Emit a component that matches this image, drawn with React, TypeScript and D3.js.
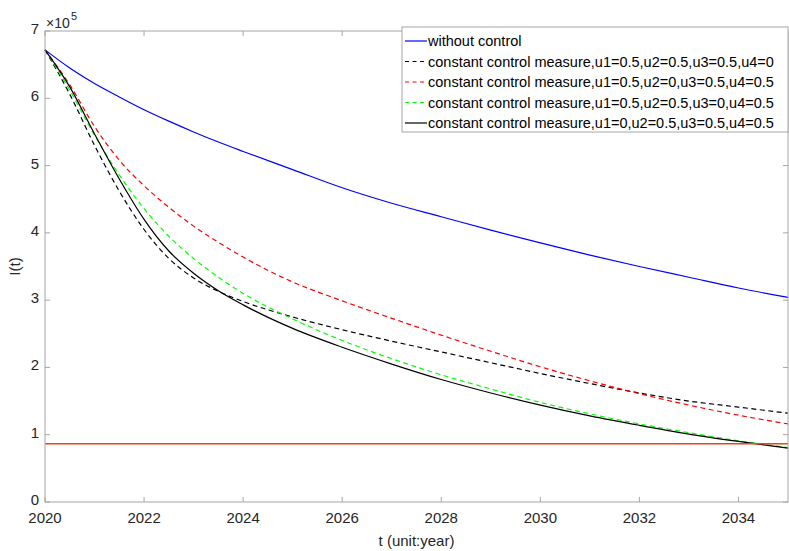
import React from "react";
import * as d3 from "d3";

const years = [2020, 2020.5, 2021, 2021.5, 2022, 2022.5, 2023, 2023.5, 2024, 2025, 2026, 2027, 2028, 2029, 2030, 2031, 2032, 2033, 2034, 2035];
const withoutControl = [6.72, 6.45, 6.22, 6.02, 5.83, 5.66, 5.5, 5.35, 5.21, 4.94, 4.67, 4.44, 4.24, 4.04, 3.85, 3.67, 3.5, 3.34, 3.18, 3.04];
const noU4 = [6.72, 6.06, 5.3, 4.62, 4.05, 3.62, 3.33, 3.13, 2.98, 2.75, 2.56, 2.39, 2.23, 2.07, 1.91, 1.76, 1.62, 1.5, 1.41, 1.32];
const noU2 = [6.72, 6.2, 5.58, 5.08, 4.7, 4.38, 4.1, 3.86, 3.64, 3.27, 2.99, 2.73, 2.48, 2.24, 2.01, 1.8, 1.61, 1.44, 1.29, 1.16];
const noU3 = [6.72, 6.12, 5.45, 4.86, 4.36, 3.95, 3.62, 3.34, 3.1, 2.72, 2.4, 2.13, 1.89, 1.68, 1.48, 1.31, 1.16, 1.03, 0.91, 0.81];
const noU1 = [6.72, 6.17, 5.47, 4.8, 4.2, 3.73, 3.4, 3.14, 2.93, 2.58, 2.3, 2.05, 1.82, 1.62, 1.44, 1.28, 1.14, 1.01, 0.9, 0.8];
const threshold = 0.866;

const xTicks = [2020, 2022, 2024, 2026, 2028, 2030, 2032, 2034];
const yTicks = [0, 1, 2, 3, 4, 5, 6, 7];

const legendLabels = [
  "without control",
  "constant control measure,u1=0.5,u2=0.5,u3=0.5,u4=0",
  "constant control measure,u1=0.5,u2=0,u3=0.5,u4=0.5",
  "constant control measure,u1=0.5,u2=0.5,u3=0,u4=0.5",
  "constant control measure,u1=0,u2=0.5,u3=0.5,u4=0.5",
];

const series = [
  { values: withoutControl, color: "#0000ff", dash: "" },
  { values: noU4, color: "#000000", dash: "5,3.5" },
  { values: noU2, color: "#ff0000", dash: "5,3.5" },
  { values: noU3, color: "#00ff00", dash: "5,3.5" },
  { values: noU1, color: "#000000", dash: "" },
];

export default function App() {
  const W = 789, H = 551;
  const left = 45, right = 788, top = 31, bottom = 502;
  const x = d3.scaleLinear().domain([2020, 2035]).range([left, right]);
  const y = d3.scaleLinear().domain([0, 7]).range([bottom, top]);
  const line = d3
    .line<number>()
    .x((_, i) => x(years[i]))
    .y((d) => y(d))
    .curve(d3.curveMonotoneX);
  const axisColor = "#a6a6a6";
  const textColor = "#262626";
  const font = "'Liberation Sans', Arial, Helvetica, sans-serif";
  const tick = 5;
  const legX = 402, legY = 27, legW = 386, legH = 105;
  const rowH = 20.5;

  return (
    <svg width={W} height={H} style={{ position: "absolute", left: 0, top: 0, background: "#fff" }} fontFamily={font}>
      <rect x={0} y={0} width={W} height={H} fill="#fff" />
      <g>
        {series.map((s, i) => (
          <path key={i} d={line(s.values) || ""} fill="none" stroke={s.color} strokeWidth={1.2} strokeDasharray={s.dash || undefined} />
        ))}
        <line x1={x(2020)} x2={x(2035)} y1={y(threshold)} y2={y(threshold)} stroke="#f0401c" strokeWidth={1.6} />
      </g>
      <rect x={left} y={top} width={right - left} height={bottom - top} fill="none" stroke={axisColor} strokeWidth={1} />
      {xTicks.map((t) => (
        <g key={t}>
          <line x1={x(t)} x2={x(t)} y1={bottom} y2={bottom - tick} stroke={axisColor} />
          <line x1={x(t)} x2={x(t)} y1={top} y2={top + tick} stroke={axisColor} />
          <text x={x(t)} y={bottom + 21} textAnchor="middle" fontSize={15} fill={textColor}>{t}</text>
        </g>
      ))}
      {yTicks.map((v) => (
        <g key={v}>
          <line x1={left} x2={left + tick} y1={y(v)} y2={y(v)} stroke={axisColor} />
          <line x1={right} x2={right - tick} y1={y(v)} y2={y(v)} stroke={axisColor} />
          <text x={left - 6} y={y(v) + 3} textAnchor="end" fontSize={15} fill={textColor}>{v}</text>
        </g>
      ))}
      <text x={46} y={28} fontSize={14} fill={textColor}>×10</text>
      <text x={71} y={20} fontSize={11} fill={textColor}>5</text>
      <text x={(left + right) / 2} y={546} textAnchor="middle" fontSize={15} fill={textColor}>t (unit:year)</text>
      <text transform={`translate(20,${(top + bottom) / 2}) rotate(-90)`} textAnchor="middle" fontSize={15} fill={textColor}>I(t)</text>
      <rect x={legX} y={legY} width={legW} height={legH} fill="#fff" stroke="#a6a6a6" strokeWidth={1} />
      {legendLabels.map((lab, i) => {
        const cy = legY + 14 + i * rowH;
        const s = series[i];
        return (
          <g key={i}>
            <line x1={legX + 3} x2={legX + 25} y1={cy} y2={cy} stroke={s.color} strokeWidth={1.2} strokeDasharray={s.dash ? "4,3.5" : undefined} />
            <text x={legX + 26} y={cy + 5} fontSize={14.5} fill="#000">{lab}</text>
          </g>
        );
      })}
    </svg>
  );
}
